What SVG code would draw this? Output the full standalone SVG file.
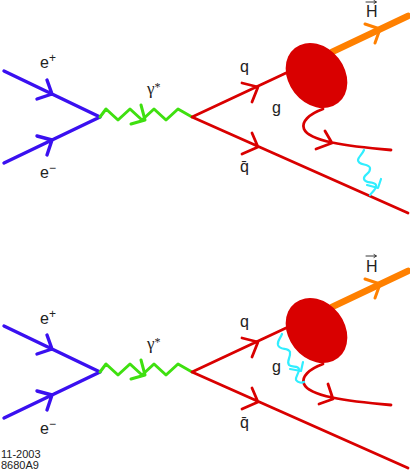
<svg xmlns="http://www.w3.org/2000/svg" width="410" height="472" viewBox="0 0 410 472">
<style>
text{font-family:"Liberation Sans",Arial,sans-serif;font-size:16px;fill:#222}
.s{font-size:12px}
.y{font-family:"Liberation Serif",serif;font-size:17px}
.f{font-size:11px}
path,line{fill:none;stroke-linecap:round;stroke-linejoin:round}
.b{stroke:#3a10f0;stroke-width:3.400}
.gr{stroke:#3fe010;stroke-width:3}
.r{stroke:#d90000;stroke-width:2.800}
.o{stroke:#ff8000;stroke-width:6.500}
.oa{stroke:#ff8000;stroke-width:3}
.c{stroke:#30eeff;stroke-width:2.200}
.t{stroke:#222;stroke-width:.9}
</style>
<g id="connectors">
<g id="top-lines">
<path class="b" d="M4 71L100 117L4 163M47 80L52 94L37 99M37 136L52 140L47 155"/>
<path class="gr" d="M100 117L106 109L118 120L130 109L142 120L154 109L166 120L178 109L192 117M141 105L145 120L131 124"/>
<path class="r" d="M286 73L192 117L408 213M242 83L258 87L252 102M252 133L258 147L242 154"/>
<path class="o" d="M332 52L408 16"/>
<path class="oa" d="M365 24L380 29L375 43"/>
<path class="r" d="M323 109C309 114 301 122 304 129C309 141 345 146 391 150M325 131L332 143L316 149"/>
<path class="c" d="M364 150C362 155 358 157 358 160C358 166 369 163 370 168C371 174 363 174 364 179C365 184 374 181 376 185C377 189 372 192 370 195M381 179L378 188L367 185"/>
</g>
<g id="bottom-lines">
<path class="b" d="M4 326L100 372L4 418M47 335L52 349L37 354M37 391L52 395L47 410"/>
<path class="gr" d="M100 372L106 364L118 375L130 364L142 375L154 364L166 375L178 364L192 372M141 360L145 375L131 379"/>
<path class="r" d="M286 328L192 372L408 468M242 338L258 342L252 357M252 388L258 402L242 409"/>
<path class="o" d="M332 307L408 271"/>
<path class="oa" d="M365 279L380 284L375 298"/>
<path class="r" d="M323 364C309 369 301 377 304 384C309 396 345 401 391 405M328 384L333 399L319 404"/>
<path class="c" d="M282 334C280 339 277 341 278 345C280 351 288 347 290 352C291 358 286 361 289 365C292 368 298 365 299 369C299 374 295 377 296 380C298 383 302 383 304 382M303 362L301 371L290 369"/>
</g>
</g>
<g id="blob-top"><ellipse cx="316.500" cy="75.500" rx="35" ry="28" transform="rotate(52 316.500 75.500)" fill="#d90000"/></g>
<g id="blob-bottom"><ellipse cx="316.500" cy="330.500" rx="35" ry="28" transform="rotate(52 316.500 330.500)" fill="#d90000"/></g>
<g id="labels-top">
<text x="40" y="68">e<tspan class="s" dy="-6">+</tspan></text>
<text x="40" y="178">e<tspan class="s" dy="-6">−</tspan></text>
<text class="y" x="147" y="94">γ<tspan class="s" dy="-3">*</tspan></text>
<text x="240" y="72">q</text>
<text x="272" y="113">g</text>
<text x="240" y="172">q̄</text>
<text x="366" y="17">H</text>
<path class="t" d="M366 2H376M374 .5L376.500 2L374 3.500"/>
</g>
<g id="labels-bottom">
<text x="40" y="324">e<tspan class="s" dy="-6">+</tspan></text>
<text x="40" y="434">e<tspan class="s" dy="-6">−</tspan></text>
<text class="y" x="147" y="349">γ<tspan class="s" dy="-3">*</tspan></text>
<text x="240" y="327">q</text>
<text x="272" y="372">g</text>
<text x="240" y="428">q̄</text>
<text x="366" y="272">H</text>
<path class="t" d="M366 256H376M374 254.500L376.500 256L374 257.500"/>
<text class="f" x="1" y="458">11-2003</text>
<text class="f" x="1" y="469">8680A9</text>
</g>
</svg>
